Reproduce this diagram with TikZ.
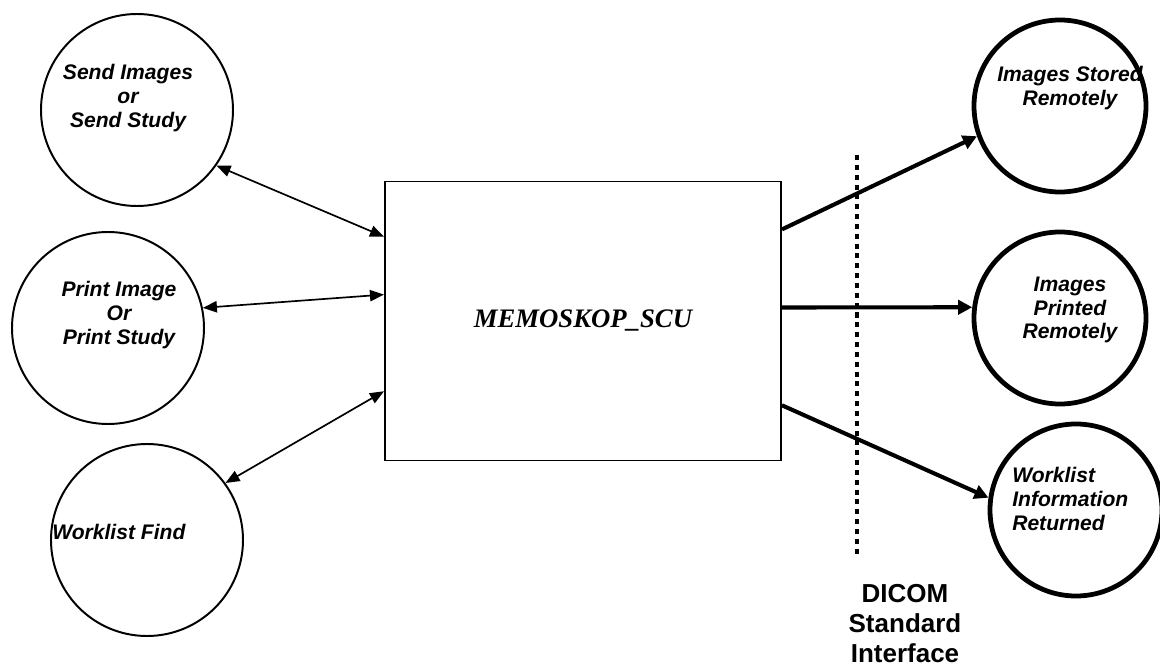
\documentclass[tikz,border=0pt]{standalone}
\usepackage{fontspec}
\setmainfont{Liberation Sans}[BoldFont={Liberation Sans Bold},ItalicFont={Liberation Sans Italic},BoldItalicFont={Liberation Sans Bold Italic}]
\newfontfamily\tnrfont{Liberation Serif}[BoldItalicFont={Liberation Serif Bold Italic}]
\usetikzlibrary{calc,arrows.meta}

\begin{document}
\begin{tikzpicture}[
  proc/.style={circle,draw,line width=1.4pt,minimum size=4.8cm,inner sep=0pt},
  remote/.style={circle,draw,line width=3.4pt,minimum size=4.3cm,inner sep=0pt},
  lbl/.style={font=\fontsize{15}{17}\selectfont\bfseries\itshape,align=center,inner sep=0pt},
  local/.style={line width=1.2pt,{Triangle[length=10pt,width=8pt]}-{Triangle[length=10pt,width=8pt]}},
  assoc/.style={line width=2.9pt,-{Triangle[length=10pt,width=10pt]}}
]
          %\draw[help lines] (0,0) grid (29,16.7);
          \useasboundingbox (0,0) rectangle (29,16.7);
          % local real-world activities
          \node[proc] (send) at (3.425,13.95) {};
          \node[proc] (print) at (2.7,8.5) {};
          \node[proc] (find) at (3.675,3.2) {};
          \node[lbl] (sendtxt) at (3.2,14.25) {Send Images\\or\\Send Study};
          \node[lbl] (printtxt) at (2.975,8.825) {Print Image\\Or\\Print Study};
          \node[lbl,anchor=west] (findtxt) at (1.3,3.4) {Worklist Find};
          % application entity
          \node[draw,line width=1.4pt,minimum width=9.9cm,minimum height=6.975cm,inner sep=0pt,
                font=\tnrfont\fontsize{19}{22}\selectfont\bfseries\itshape] (ae) at (14.575,8.675) {MEMOSKOP\_SCU};
          % remote real-world activities
          \node[remote] (store) at (26.5,14.05) {};
          \node[remote] (printed) at (26.5,8.75) {};
          \node[remote] (wl) at (26.9,3.95) {};
          \node[lbl] (storetxt) at (26.75,14.5) {Images Stored\\Remotely};
          \node[lbl] (printedtxt) at (26.75,8.95) {Images\\Printed\\Remotely};
          \node[lbl,anchor=west,align=left] (wltxt) at (25.3,4.225) {Worklist\\Information\\Returned};
          % associations
          \draw[local] (send.-35) -- ($(ae.north west)!0.2!(ae.south west)$);
          \draw[local] (print.12) -- ($(ae.north west)!0.406!(ae.south west)$);
          \draw[local] (find.36) -- ($(ae.north west)!0.75!(ae.south west)$);
          \draw[assoc] ($(ae.north east)!0.174!(ae.south east)$) -- (store.200);
          \draw[assoc] ($(ae.north east)!0.452!(ae.south east)$) -- (printed.173.5);
          \draw[assoc] ($(ae.north east)!0.8!(ae.south east)$) -- (wl.172);
          % interface boundary
          \coordinate (itop) at (21.425,12.825);
          \coordinate (ibot) at (21.425,2.775);
          \draw[line width=3.2pt,dash pattern=on 3.6pt off 3.4pt] (itop) -- (ibot);
          \node[font=\fontsize{18.5}{21.3}\selectfont\bfseries,align=center,inner sep=0pt] (dicom) at (22.625,1.12) {DICOM\\Standard\\Interface};
\end{tikzpicture}
\end{document}
